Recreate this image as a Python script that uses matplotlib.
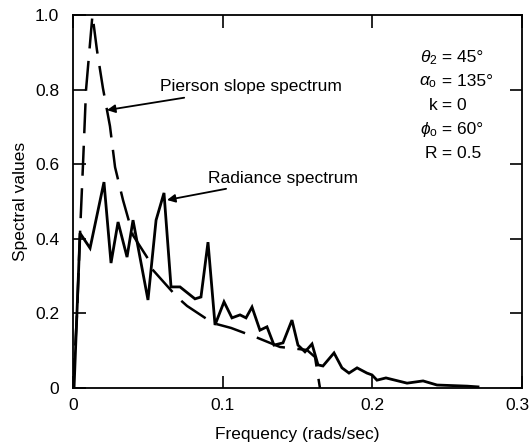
import numpy as np
import matplotlib
matplotlib.use('Agg')
import matplotlib.pyplot as plt
from matplotlib.transforms import ScaledTranslation

plt.rcParams['font.family'] = ['Liberation Sans', 'DejaVu Sans']
plt.rcParams['mathtext.fontset'] = 'custom'
plt.rcParams['mathtext.rm'] = 'Liberation Sans'
plt.rcParams['mathtext.it'] = 'Liberation Sans:italic'

# radiance spectrum (solid)
rad_f = [0.0007, 0.0047, 0.0114, 0.0207, 0.0254, 0.0301, 0.0361, 0.0401, 0.0501,
         0.0555, 0.0608, 0.0655, 0.0715, 0.0815, 0.0855, 0.0902, 0.0949, 0.1009,
         0.1062, 0.1116, 0.1156, 0.1196, 0.1249, 0.1296, 0.1343, 0.1403, 0.1463,
         0.1503, 0.1550, 0.1597, 0.1637, 0.1670, 0.1744, 0.1797, 0.1844, 0.1898,
         0.1964, 0.1998, 0.2031, 0.2091, 0.2232, 0.2339, 0.2432, 0.2633, 0.2706]
rad_s = [0.0, 0.415, 0.375, 0.552, 0.335, 0.445, 0.351, 0.450, 0.236,
         0.450, 0.523, 0.271, 0.271, 0.239, 0.244, 0.391, 0.169, 0.231,
         0.188, 0.196, 0.188, 0.217, 0.155, 0.164, 0.115, 0.121, 0.182,
         0.115, 0.097, 0.118, 0.062, 0.059, 0.094, 0.054, 0.040, 0.054,
         0.040, 0.035, 0.021, 0.027, 0.013, 0.019, 0.008, 0.005, 0.003]

# Pierson slope spectrum (dashed)
pier_f = [0.0, 0.0027, 0.0047, 0.0067, 0.0087, 0.013, 0.016, 0.020, 0.0247,
          0.0281, 0.0334, 0.040, 0.0494, 0.0528, 0.0695, 0.0762, 0.0935,
          0.1056, 0.1236, 0.1383, 0.1563, 0.1617, 0.1650]
pier_s = [0.0, 0.201, 0.416, 0.601, 0.799, 1.0, 0.906, 0.804, 0.702,
          0.592, 0.504, 0.41, 0.351, 0.319, 0.244, 0.220, 0.174,
          0.161, 0.134, 0.110, 0.102, 0.083, 0.0]

param_names = [r'$\theta_2$', r'$\alpha_{\rm o}$', 'k', r'$\phi_{\rm o}$', 'R']
param_vals = [' = 45°', ' = 135°', ' = 0', ' = 60°', ' = 0.5']

fs = 12.5

fig = plt.figure(figsize=(5.3, 4.45), dpi=100)
ax = fig.add_axes([73/530, 1 - 388/445, 449/530, 373/445])

ax.plot(rad_f, rad_s, color='k', lw=2.0, solid_joinstyle='miter')
ax.plot(pier_f, pier_s, color='k', lw=1.8, dashes=(12, 5))

ax.set_xlim(0, 0.3)
ax.set_ylim(0, 1.0)
ax.set_xticks([0, 0.1, 0.2, 0.3])
ax.set_xticklabels(['0', '0.1', '0.2', '0.3'])
ax.set_yticks([0, 0.2, 0.4, 0.6, 0.8, 1.0])
ax.set_yticklabels(['0', '0.2', '0.4', '0.6', '0.8', '1.0'])
ax.tick_params(direction='in', length=9, width=1.2, top=True, right=True,
               labelsize=fs)
ax.tick_params(axis='y', pad=10)
ax.tick_params(axis='x', pad=7)
for s in ax.spines.values():
    s.set_linewidth(1.3)

# last x label sits against the figure edge, nudge it in a bit
lab = ax.get_xticklabels()[-1]
lab.set_transform(lab.get_transform() + ScaledTranslation(-0.05, 0, fig.dpi_scale_trans))

ax.set_xlabel('Frequency (rads/sec)', fontsize=fs, labelpad=10)
ax.set_ylabel('Spectral values', fontsize=fs, labelpad=5)

arrow = dict(arrowstyle='-|>', lw=1.3, color='k', mutation_scale=12,
             shrinkA=2, shrinkB=0)
ax.annotate('Pierson slope spectrum', xy=(0.0227, 0.745), xytext=(0.0581, 0.807),
            fontsize=fs, va='center', ha='left', arrowprops=arrow)
ax.annotate('Radiance spectrum', xy=(0.0628, 0.504), xytext=(0.0902, 0.563),
            fontsize=fs, va='center', ha='left', arrowprops=arrow)

# parameter block, lined up on the '=' signs
for i, (n, v) in enumerate(zip(param_names, param_vals)):
    yy = 0.885 - i * 0.064
    ax.text(0.2435, yy, n, fontsize=fs, ha='right', va='center')
    ax.text(0.2435, yy, v, fontsize=fs, ha='left', va='center')

fig.savefig('out.png', dpi=100)
